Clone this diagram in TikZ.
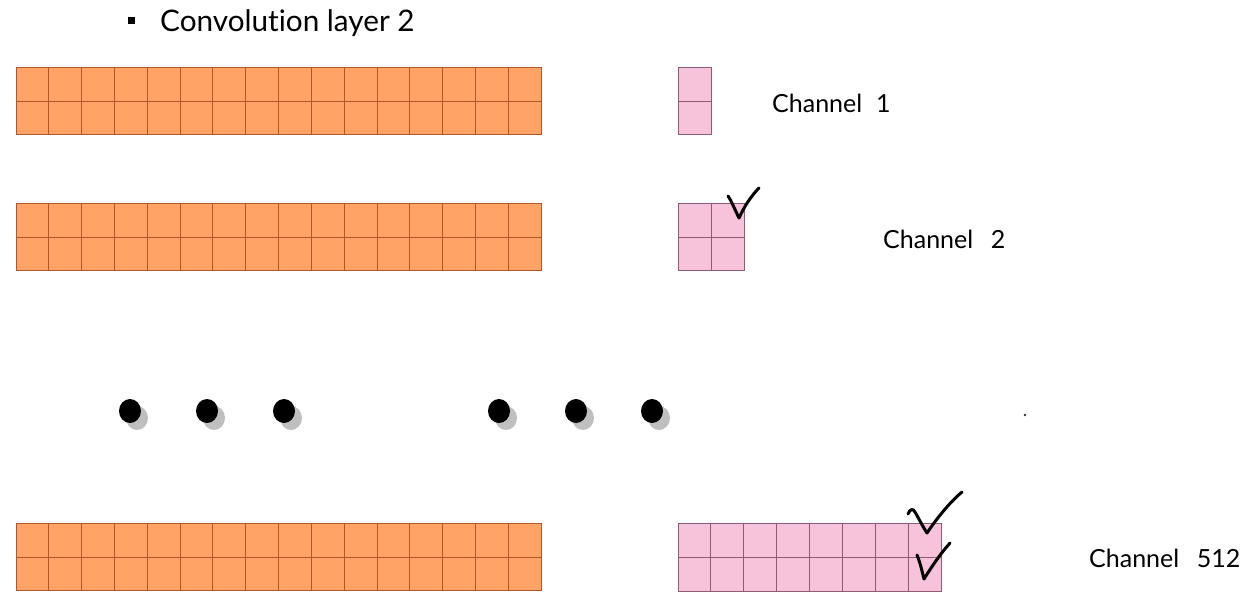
\documentclass[tikz,border=0pt]{standalone}
\usepackage{fontspec}
\setmainfont{Lato}[Ligatures={NoCommon,NoRare,NoContextual}]
\usetikzlibrary{calc,shapes.geometric}
\begin{document}
\begin{tikzpicture}[x=1pt,y=-1pt,
  orangecell/.style={fill=orangefill,draw=orangeline,line width=0.8pt},
  pinkcell/.style={fill=pinkfill,draw=pinkline,line width=0.8pt},
  gridline/.style={line width=0.8pt},
  label/.style={font=\fontsize{25}{30}\selectfont,anchor=base west,inner sep=0pt},
  titletext/.style={font=\fontsize{29.7}{34}\selectfont,anchor=base west,inner sep=0pt},
  dotblack/.style={fill=black,draw=none},
  dotshadow/.style={fill=black!25,draw=none},
  checkmark/.style={line width=3pt,line cap=round,line join=round}
]
\definecolor{orangefill}{HTML}{FFA466}
\definecolor{orangeline}{HTML}{B0582A}
\definecolor{pinkfill}{HTML}{F7C3DA}
\definecolor{pinkline}{HTML}{8E5A78}
\useasboundingbox (0,0) rectangle (1259,616);
\fill[white] (0,0) rectangle (1259,616);

% title
\node[fill=black,minimum size=7pt,inner sep=0pt] (bullet) at (131,20) {};
\node[titletext] (title) at (160,31) {Convolution layer 2};

% orange grids
\foreach \n/\y in {g1/67,g2/203,g3/523}{
  \node[orangecell,minimum width=525pt,minimum height=67pt,anchor=north west,inner sep=0pt] (\n) at (16,\y) {};
  \foreach \i in {1,...,15}{
    \draw[gridline,draw=orangeline] ($(\n.north west)+(\i*32.8125,0)$) -- ($(\n.south west)+(\i*32.8125,0)$);
  }
  \draw[gridline,draw=orangeline] (\n.west) -- (\n.east);
}

% pink grids
\node[pinkcell,minimum width=33pt,minimum height=67pt,anchor=north west,inner sep=0pt] (p1) at (678,67) {};
\draw[gridline,draw=pinkline] (p1.west) -- (p1.east);

\node[pinkcell,minimum width=66pt,minimum height=67pt,anchor=north west,inner sep=0pt] (p2) at (678,203) {};
\draw[gridline,draw=pinkline] (p2.west) -- (p2.east);
\draw[gridline,draw=pinkline] (p2.north) -- (p2.south);

\node[pinkcell,minimum width=263pt,minimum height=68pt,anchor=north west,inner sep=0pt] (p3) at (678,523) {};
\draw[gridline,draw=pinkline] (p3.west) -- (p3.east);
\foreach \i in {1,...,7}{
  \draw[gridline,draw=pinkline] ($(p3.north west)+(\i*32.875,0)$) -- ($(p3.south west)+(\i*32.875,0)$);
}

% labels
\node[label] (c1) at (772,112) {Channel\hspace{0.55em}1};
\node[label] (c2) at (883,248) {Channel\hspace{0.7em}2};
\node[label] (c3) at (1089,567) {Channel\hspace{0.7em}512};

% checkmarks
\draw[checkmark] (728,196) .. controls (731,200) and (735,210) .. (739,218) .. controls (744,207) and (751,196) .. (759,188);
\draw[checkmark] (908,514) .. controls (910,509) and (913,508) .. (915,512) .. controls (919,519) and (923,527) .. (927,533) .. controls (937,518) and (950,502) .. (962,492);
\draw[checkmark] (917,555) .. controls (920,562) and (922,571) .. (924,579) .. controls (932,566) and (941,553) .. (950,543);

% dots
\foreach \n/\x in {d1/130,d2/207,d3/284,d4/499,d5/576,d6/652}{
  \fill[dotshadow] (\x+7,418) ellipse (11pt and 12pt);
  \fill[dotblack] (\x,411) ellipse (11pt and 12pt);
  \coordinate (\n) at (\x,411);
}
\fill[black!80] (1025,415) circle (1.3pt);
\end{tikzpicture}
\end{document}
